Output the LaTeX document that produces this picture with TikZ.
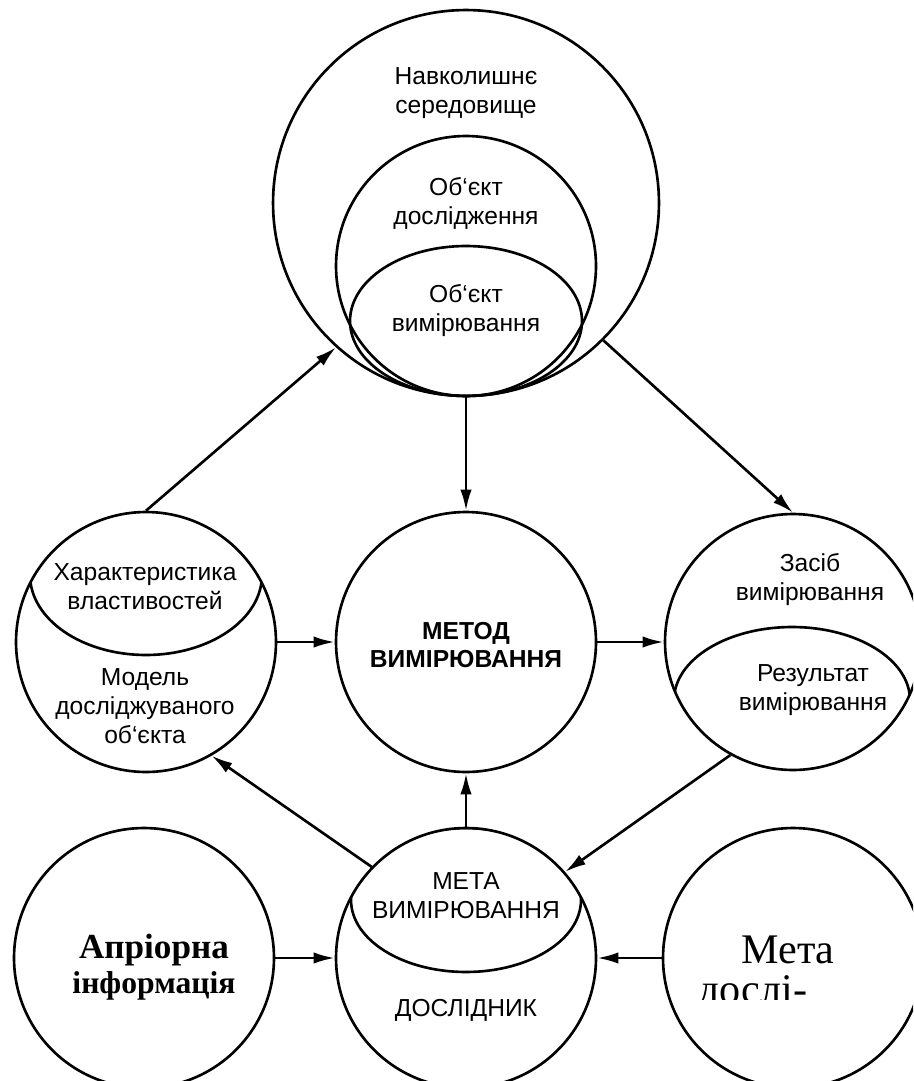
\documentclass[tikz,border=0pt]{standalone}
\usepackage{fontspec}
\setmainfont{Liberation Sans}
\newfontfamily\serifface{Liberation Serif}
\usetikzlibrary{arrows.meta,shapes.geometric}

\begin{document}
\begin{tikzpicture}
[ x=0.02cm, y=-0.02cm,
		ring/.style={circle,draw,line width=1.5pt,inner sep=0pt},
		oval/.style={ellipse,draw,line width=1.5pt,inner sep=0pt},
		caption/.style={align=center,font=\fontsize{14}{16.5}\selectfont},
		arrowOut/.style={-{Latex[length=12pt,width=6.5pt]},line width=1.5pt}]

	\clip (0,0) rectangle (913,1081);

	% environment, object of study, object of measurement
	\node[ring,minimum size=7.72cm] (env) at (466,203) {};
	\node[ring,minimum size=5.2cm] (study) at (466,266) {};
	\node[oval,minimum width=4.64cm,minimum height=3cm] (measobj) at (466,321) {};
	\node[caption] (env text) at (466,93) {Навколишнє\\середовище};
	\node[caption] (study text) at (466,203) {Об‘єкт\\дослідження};
	\node[caption] (measobj text) at (466,311) {Об‘єкт\\вимірювання};

	% middle row
	\node[ring,minimum size=5.2cm] (model) at (146,642) {};
	\node[ring,minimum size=5.2cm] (method) at (466,642) {};
	\node[ring,minimum size=5.12cm] (means) at (793,642) {};
	\begin{scope}
		\clip (model.center) circle [radius=2.6cm];
		\node[oval,minimum width=4.64cm,minimum height=3.2cm] (props) at (146,575) {};
	\end{scope}
	\begin{scope}
		\clip (means.center) circle [radius=2.56cm];
		\node[oval,minimum width=4.72cm,minimum height=2.92cm] (result) at (792,700) {};
	\end{scope}
	\node[caption] (props text) at (145,587) {Характеристика\\властивостей};
	\node[caption] (model text) at (145,706) {Модель\\досліджуваного\\об‘єкта};
	\node[caption,font=\fontsize{14}{15.5}\selectfont\bfseries] (method text) at (466,645) {МЕТОД\\ВИМІРЮВАННЯ};
	\node[caption] (means text) at (810,580) {Засіб\\вимірювання};
	\node[caption] (result text) at (813,690) {Результат\\вимірювання};

	% bottom row
	\node[ring,minimum size=5.2cm] (apriori) at (144,958) {};
	\node[ring,minimum size=5.2cm] (researcher) at (466,958) {};
	\node[ring,minimum size=5.2cm] (goal) at (793,958) {};
	\begin{scope}
		\clip (researcher.center) circle [radius=2.6cm];
		\node[oval,minimum width=4.6cm,minimum height=2.88cm] (aim) at (466,900) {};
	\end{scope}
	\node[caption] (aim text) at (466,896) {МЕТА\\ВИМІРЮВАННЯ};
	\node[caption] (researcher text) at (466,1010) {ДОСЛІДНИК};
	\node[anchor=base,font=\serifface\bfseries\fontsize{20}{20}\selectfont] (apriori top) at (154,958) {Апріорна};
	\node[anchor=base,font=\serifface\bfseries\fontsize{18}{20}\selectfont] (apriori bottom) at (154,993) {інформація};
	\begin{scope}
		\clip (690,913) rectangle (883,999);
		\node[anchor=base,font=\serifface\fontsize{24}{28}\selectfont] (goal top) at (788,963) {Мета};
		\node[anchor=base west,font=\serifface\fontsize{24}{28}\selectfont] (goal bottom) at (692,1003) {дослі-};
	\end{scope}

	\draw[arrowOut] (model.north) -- (env.228);
	\draw[arrowOut] (env.south) -- (method.north);
	\draw[arrowOut] (env.south east) -- (means.north);
	\draw[arrowOut] (model.east) -- (method.west);
	\draw[arrowOut] (method.east) -- (means.west);
	\draw[arrowOut] (means.241) -- (researcher.41);
	\draw[arrowOut] (researcher.north) -- (method.south);
	\draw[arrowOut] (researcher.136) -- (model.300);
	\draw[arrowOut] (apriori.east) -- (researcher.west);
	\draw[arrowOut] (goal.west) -- (researcher.east);
\end{tikzpicture}
\end{document}
